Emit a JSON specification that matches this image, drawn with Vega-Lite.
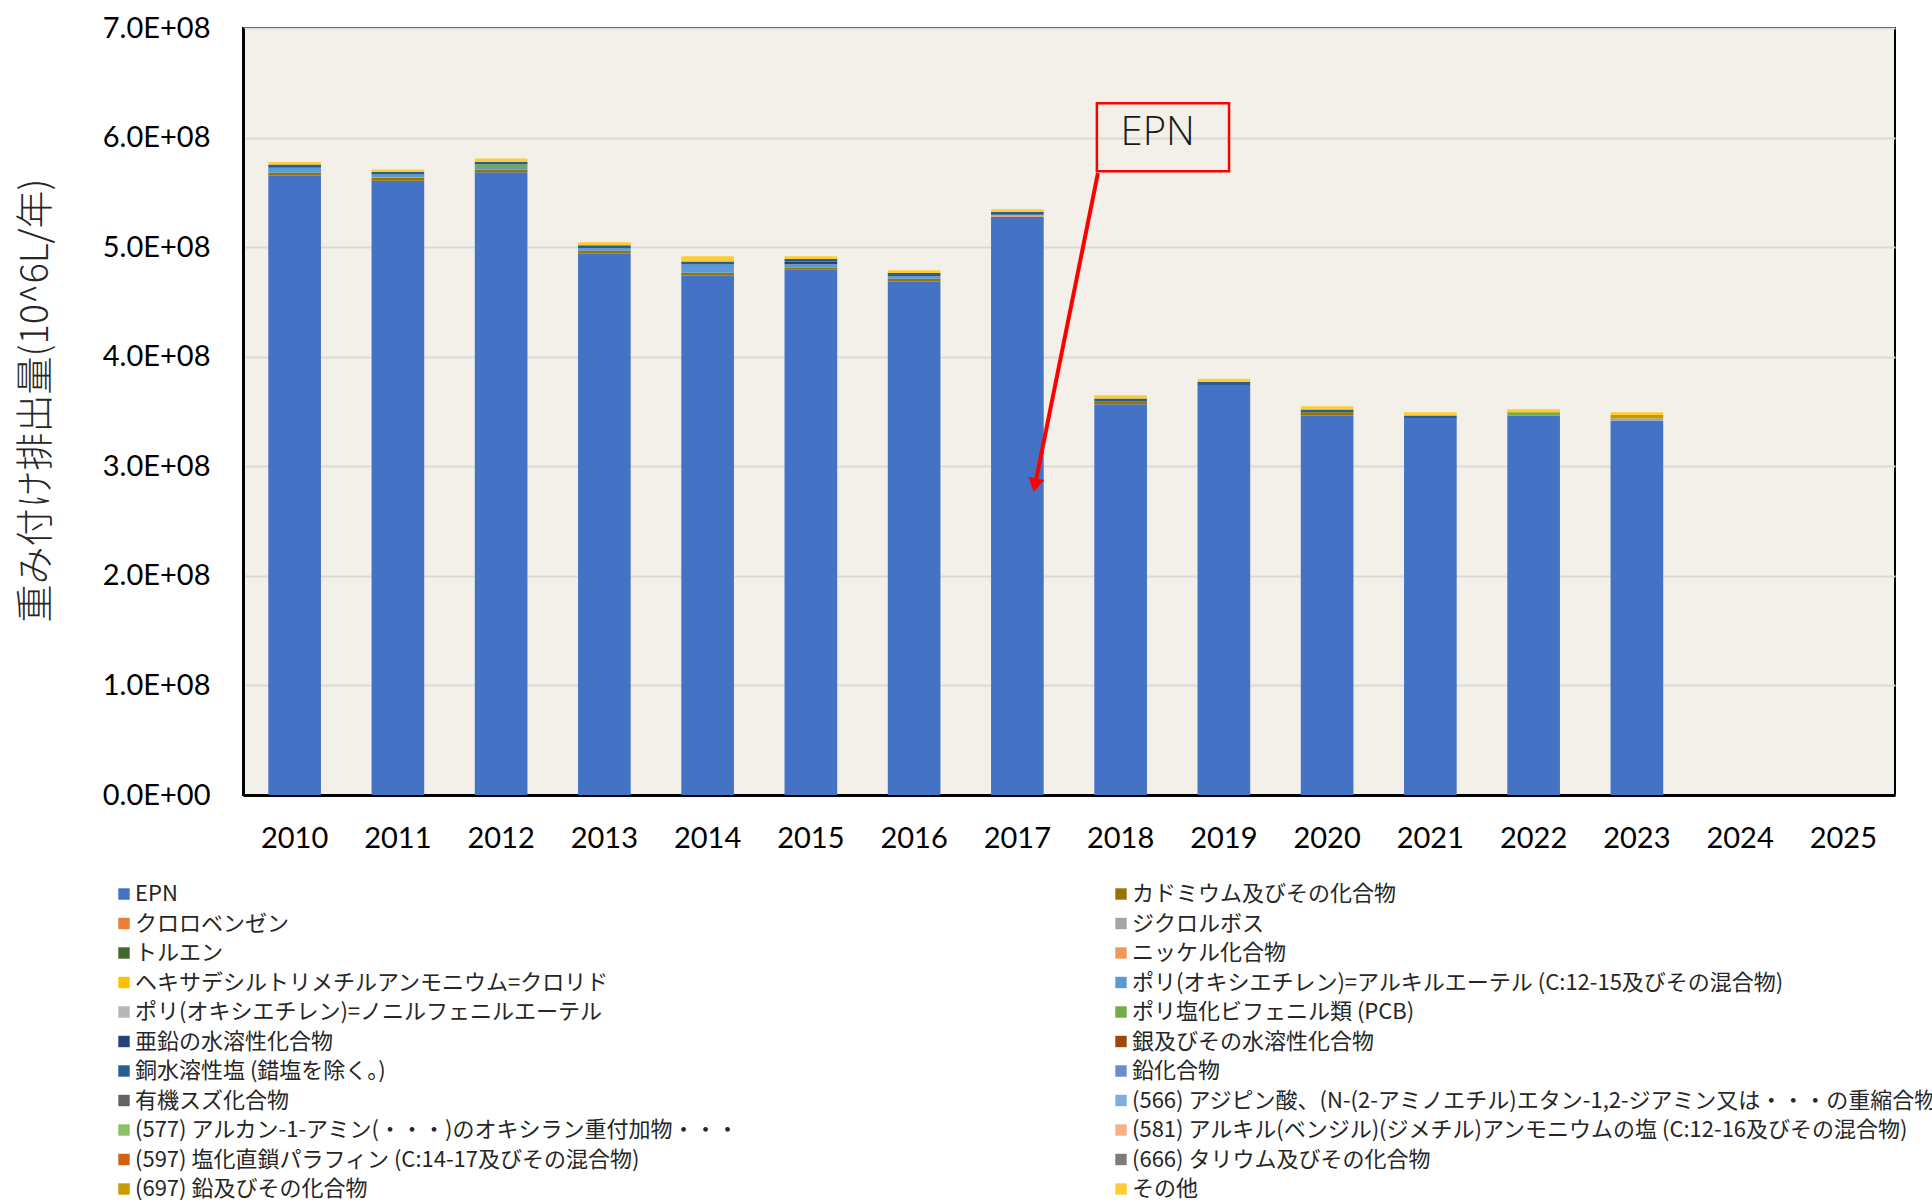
{
  "$schema": "https://vega.github.io/schema/vega-lite/v6.json",
  "width": 1652,
  "height": 767,
  "autosize": {"type": "none"},
  "padding": {"left": 243, "top": 28, "right": 37, "bottom": 407},
  "background": "#FFFFFF",
  "config": {
    "view": {"fill": "#F3F0EA", "stroke": "#000000", "strokeWidth": 2},
    "font": "Lato"
  },
  "datasets": {
    "emissions": [
      {"year": "2010", "series": "EPN", "value": 565400000},
      {"year": "2010", "series": "カドミウム及びその化合物", "value": 2400000},
      {"year": "2010", "series": "ポリ(オキシエチレン)=アルキルエーテル (C:12-15及びその混合物)", "value": 4600000},
      {"year": "2010", "series": "銅水溶性塩 (錯塩を除く。)", "value": 3000000},
      {"year": "2010", "series": "その他", "value": 2400000},
      {"year": "2011", "series": "EPN", "value": 560500000},
      {"year": "2011", "series": "カドミウム及びその化合物", "value": 2700000},
      {"year": "2011", "series": "ジクロルボス", "value": 500000},
      {"year": "2011", "series": "ポリ(オキシエチレン)=アルキルエーテル (C:12-15及びその混合物)", "value": 2700000},
      {"year": "2011", "series": "銅水溶性塩 (錯塩を除く。)", "value": 2100000},
      {"year": "2011", "series": "その他", "value": 2400000},
      {"year": "2012", "series": "EPN", "value": 568400000},
      {"year": "2012", "series": "カドミウム及びその化合物", "value": 2400000},
      {"year": "2012", "series": "ポリ(オキシエチレン)=アルキルエーテル (C:12-15及びその混合物)", "value": 2400000},
      {"year": "2012", "series": "ポリ塩化ビフェニル類 (PCB)", "value": 2400000},
      {"year": "2012", "series": "銅水溶性塩 (錯塩を除く。)", "value": 2400000},
      {"year": "2012", "series": "その他", "value": 3000000},
      {"year": "2013", "series": "EPN", "value": 494300000},
      {"year": "2013", "series": "カドミウム及びその化合物", "value": 2400000},
      {"year": "2013", "series": "ポリ(オキシエチレン)=アルキルエーテル (C:12-15及びその混合物)", "value": 2400000},
      {"year": "2013", "series": "銅水溶性塩 (錯塩を除く。)", "value": 2700000},
      {"year": "2013", "series": "その他", "value": 2700000},
      {"year": "2014", "series": "EPN", "value": 474200000},
      {"year": "2014", "series": "カドミウム及びその化合物", "value": 2400000},
      {"year": "2014", "series": "ポリ(オキシエチレン)=アルキルエーテル (C:12-15及びその混合物)", "value": 7600000},
      {"year": "2014", "series": "銅水溶性塩 (錯塩を除く。)", "value": 2700000},
      {"year": "2014", "series": "その他", "value": 4900000},
      {"year": "2015", "series": "EPN", "value": 479300000},
      {"year": "2015", "series": "カドミウム及びその化合物", "value": 2100000},
      {"year": "2015", "series": "ポリ(オキシエチレン)=アルキルエーテル (C:12-15及びその混合物)", "value": 3000000},
      {"year": "2015", "series": "亜鉛の水溶性化合物", "value": 2400000},
      {"year": "2015", "series": "銅水溶性塩 (錯塩を除く。)", "value": 2400000},
      {"year": "2015", "series": "その他", "value": 2400000},
      {"year": "2016", "series": "EPN", "value": 468700000},
      {"year": "2016", "series": "カドミウム及びその化合物", "value": 2400000},
      {"year": "2016", "series": "ポリ(オキシエチレン)=アルキルエーテル (C:12-15及びその混合物)", "value": 2400000},
      {"year": "2016", "series": "銅水溶性塩 (錯塩を除く。)", "value": 3000000},
      {"year": "2016", "series": "その他", "value": 2400000},
      {"year": "2017", "series": "EPN", "value": 527700000},
      {"year": "2017", "series": "ニッケル化合物", "value": 1800000},
      {"year": "2017", "series": "銅水溶性塩 (錯塩を除く。)", "value": 2700000},
      {"year": "2017", "series": "その他", "value": 2400000},
      {"year": "2018", "series": "EPN", "value": 356700000},
      {"year": "2018", "series": "カドミウム及びその化合物", "value": 2700000},
      {"year": "2018", "series": "銅水溶性塩 (錯塩を除く。)", "value": 2400000},
      {"year": "2018", "series": "その他", "value": 3000000},
      {"year": "2019", "series": "EPN", "value": 374100000},
      {"year": "2019", "series": "銅水溶性塩 (錯塩を除く。)", "value": 3000000},
      {"year": "2019", "series": "その他", "value": 2700000},
      {"year": "2020", "series": "EPN", "value": 346400000},
      {"year": "2020", "series": "カドミウム及びその化合物", "value": 3000000},
      {"year": "2020", "series": "銅水溶性塩 (錯塩を除く。)", "value": 2400000},
      {"year": "2020", "series": "その他", "value": 3000000},
      {"year": "2021", "series": "EPN", "value": 344000000},
      {"year": "2021", "series": "銅水溶性塩 (錯塩を除く。)", "value": 2400000},
      {"year": "2021", "series": "その他", "value": 3000000},
      {"year": "2022", "series": "EPN", "value": 346100000},
      {"year": "2022", "series": "ポリ塩化ビフェニル類 (PCB)", "value": 3000000},
      {"year": "2022", "series": "(697) 鉛及びその化合物", "value": 1000000},
      {"year": "2022", "series": "その他", "value": 2000000},
      {"year": "2023", "series": "EPN", "value": 341500000},
      {"year": "2023", "series": "ジクロルボス", "value": 2400000},
      {"year": "2023", "series": "(697) 鉛及びその化合物", "value": 3000000},
      {"year": "2023", "series": "その他", "value": 2400000}
    ],
    "seriesOrder": [
      {"series": "EPN", "rank": 0},
      {"series": "カドミウム及びその化合物", "rank": 1},
      {"series": "クロロベンゼン", "rank": 2},
      {"series": "ジクロルボス", "rank": 3},
      {"series": "トルエン", "rank": 4},
      {"series": "ニッケル化合物", "rank": 5},
      {"series": "ヘキサデシルトリメチルアンモニウム=クロリド", "rank": 6},
      {"series": "ポリ(オキシエチレン)=アルキルエーテル (C:12-15及びその混合物)", "rank": 7},
      {"series": "ポリ(オキシエチレン)=ノニルフェニルエーテル", "rank": 8},
      {"series": "ポリ塩化ビフェニル類 (PCB)", "rank": 9},
      {"series": "亜鉛の水溶性化合物", "rank": 10},
      {"series": "銀及びその水溶性化合物", "rank": 11},
      {"series": "銅水溶性塩 (錯塩を除く。)", "rank": 12},
      {"series": "鉛化合物", "rank": 13},
      {"series": "有機スズ化合物", "rank": 14},
      {"series": "(566) アジピン酸、(N-(2-アミノエチル)エタン-1,2-ジアミン又は・・・の重縮合物", "rank": 15},
      {"series": "(577) アルカン-1-アミン(・・・)のオキシラン重付加物・・・", "rank": 16},
      {"series": "(581) アルキル(ベンジル)(ジメチル)アンモニウムの塩 (C:12-16及びその混合物)", "rank": 17},
      {"series": "(597) 塩化直鎖パラフィン (C:14-17及びその混合物)", "rank": 18},
      {"series": "(666) タリウム及びその化合物", "rank": 19},
      {"series": "(697) 鉛及びその化合物", "rank": 20},
      {"series": "その他", "rank": 21}
    ],
    "calloutBox": [
      {"xl": 2017.77, "xr": 2019.05, "yt": 631400000, "yb": 569300000}
    ],
    "calloutText": [
      {"tx": 2018.36, "ty": 604000000, "label": "EPN"}
    ],
    "calloutArrow": [
      {"sx": 2017.78, "sy": 567500000, "ex": 2017.171, "ey": 282800000}
    ]
  },
  "layer": [
    {
      "data": {"name": "emissions"},
      "transform": [
        {"lookup": "series", "from": {"data": {"name": "seriesOrder"}, "key": "series", "fields": ["rank"]}}
      ],
      "mark": {"type": "bar"},
      "encoding": {
        "x": {
          "field": "year",
          "type": "ordinal",
          "scale": {
            "domain": ["2010","2011","2012","2013","2014","2015","2016","2017","2018","2019","2020","2021","2022","2023","2024","2025"],
            "paddingInner": 0.49,
            "paddingOuter": 0.245
          },
          "axis": {
            "title": null,
            "labelFont": "Lato",
            "labelFontSize": 29,
            "labelColor": "#000000",
            "labelAngle": 0,
            "labelPadding": 29,
            "ticks": false,
            "domain": true,
            "domainColor": "#000000",
            "domainWidth": 3,
            "grid": false
          }
        },
        "y": {
          "field": "value",
          "type": "quantitative",
          "stack": "zero",
          "scale": {"domain": [0, 700000000], "nice": false},
          "axis": {
            "title": "重み付け排出量(10^6L/年)",
            "titleFont": "Noto Sans CJK JP",
            "titleFontSize": 38,
            "titleFontWeight": 300,
            "titleColor": "#262626",
            "titleAngle": 270,
            "titleAlign": "center",
            "titleBaseline": "middle",
            "titleX": -207,
            "titleY": 372,
            "values": [0, 100000000, 200000000, 300000000, 400000000, 500000000, 600000000, 700000000],
            "labelExpr": "datum.value == 0 ? '0.0E+00' : format(datum.value / 100000000, '.1f') + 'E+08'",
            "labelFont": "Lato",
            "labelFontSize": 29,
            "labelColor": "#000000",
            "labelPadding": 33,
            "ticks": false,
            "domain": true,
            "domainColor": "#000000",
            "domainWidth": 3,
            "grid": true,
            "gridColor": "#D9D9D9",
            "gridWidth": 2
          }
        },
        "order": {"field": "rank", "type": "quantitative", "sort": "ascending"},
        "color": {
          "field": "series",
          "type": "nominal",
          "scale": {
            "domain": [
              "EPN", "カドミウム及びその化合物", "クロロベンゼン", "ジクロルボス", "トルエン", "ニッケル化合物",
              "ヘキサデシルトリメチルアンモニウム=クロリド", "ポリ(オキシエチレン)=アルキルエーテル (C:12-15及びその混合物)",
              "ポリ(オキシエチレン)=ノニルフェニルエーテル", "ポリ塩化ビフェニル類 (PCB)", "亜鉛の水溶性化合物", "銀及びその水溶性化合物",
              "銅水溶性塩 (錯塩を除く。)", "鉛化合物", "有機スズ化合物",
              "(566) アジピン酸、(N-(2-アミノエチル)エタン-1,2-ジアミン又は・・・の重縮合物",
              "(577) アルカン-1-アミン(・・・)のオキシラン重付加物・・・",
              "(581) アルキル(ベンジル)(ジメチル)アンモニウムの塩 (C:12-16及びその混合物)",
              "(597) 塩化直鎖パラフィン (C:14-17及びその混合物)", "(666) タリウム及びその化合物", "(697) 鉛及びその化合物", "その他"
            ],
            "range": [
              "#4472C4", "#997300", "#ED7D31", "#A5A5A5", "#43682B", "#F1975A",
              "#FFC000", "#5B9BD5", "#B7B7B7", "#70AD47", "#264478", "#9E480E",
              "#255E91", "#698ED0", "#636363", "#7CAFDD", "#8CC168", "#F4B183",
              "#D26012", "#7C7C7C", "#C99A00", "#FFCD33"
            ]
          },
          "legend": {
            "orient": "none",
            "direction": "horizontal",
            "legendX": -130,
            "legendY": 855,
            "columns": 2,
            "columnPadding": 370,
            "rowPadding": 7.5,
            "padding": 0,
            "title": null,
            "symbolType": "square",
            "symbolSize": 130,
            "symbolStrokeWidth": 0,
            "labelFont": "Noto Sans CJK JP",
            "labelFontSize": 22,
            "labelColor": "#262626",
            "labelLimit": 1400,
            "labelOffset": 0
          }
        }
      }
    },
    {
      "data": {"name": "calloutBox"},
      "mark": {"type": "rect", "fill": "transparent", "stroke": "#FF0000", "strokeWidth": 2.5},
      "encoding": {
        "x": {"field": "xl", "type": "quantitative", "scale": {"domain": [2009.5, 2025.5], "nice": false, "zero": false}, "axis": null},
        "x2": {"field": "xr"},
        "y": {"field": "yt", "type": "quantitative", "scale": {"domain": [0, 700000000], "nice": false}},
        "y2": {"field": "yb"}
      }
    },
    {
      "data": {"name": "calloutText"},
      "mark": {"type": "text", "font": "Open Sans", "fontWeight": 300, "fontSize": 40, "color": "#1A1A1A", "align": "center", "baseline": "middle"},
      "encoding": {
        "x": {"field": "tx", "type": "quantitative", "scale": {"domain": [2009.5, 2025.5], "nice": false, "zero": false}, "axis": null},
        "y": {"field": "ty", "type": "quantitative", "scale": {"domain": [0, 700000000], "nice": false}},
        "text": {"field": "label"}
      }
    },
    {
      "data": {"name": "calloutArrow"},
      "mark": {"type": "rule", "color": "#FF0000", "strokeWidth": 4},
      "encoding": {
        "x": {"field": "sx", "type": "quantitative", "scale": {"domain": [2009.5, 2025.5], "nice": false, "zero": false}, "axis": null},
        "x2": {"field": "ex"},
        "y": {"field": "sy", "type": "quantitative", "scale": {"domain": [0, 700000000], "nice": false}},
        "y2": {"field": "ey"}
      }
    },
    {
      "data": {"name": "calloutArrow"},
      "mark": {"type": "point", "shape": "triangle-down", "filled": true, "color": "#FF0000", "opacity": 1, "size": 260, "angle": 11.5, "strokeWidth": 0},
      "encoding": {
        "x": {"field": "ex", "type": "quantitative", "scale": {"domain": [2009.5, 2025.5], "nice": false, "zero": false}, "axis": null},
        "y": {"field": "ey", "type": "quantitative", "scale": {"domain": [0, 700000000], "nice": false}}
      }
    }
  ],
  "resolve": {"scale": {"x": "independent"}}
}
